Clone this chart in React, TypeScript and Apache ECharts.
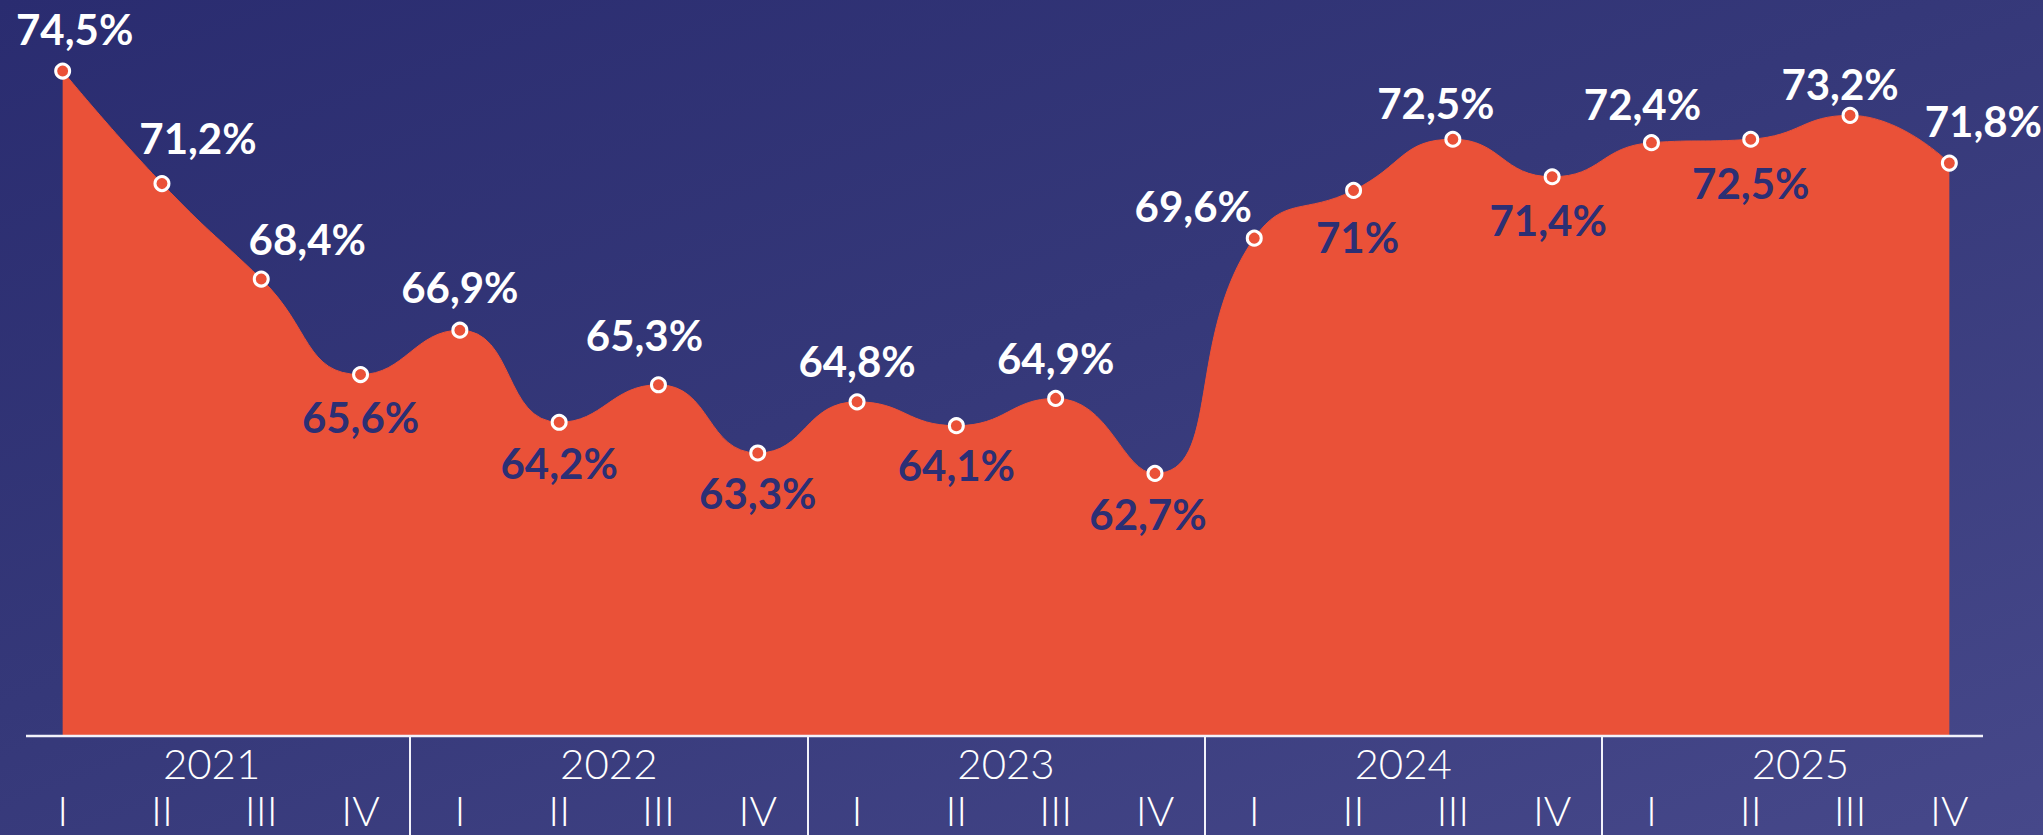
import React, { useEffect, useRef } from "react";
import * as echarts from "echarts";

const quarters = [
  "I", "II", "III", "IV",
  "I", "II", "III", "IV",
  "I", "II", "III", "IV",
  "I", "II", "III", "IV",
  "I", "II", "III", "IV",
];
const years = ["2021", "2022", "2023", "2024", "2025"];
const shareValues = [
  74.5, 71.2, 68.4, 65.6,
  66.9, 64.2, 65.3, 63.3,
  64.8, 64.1, 64.9, 62.7,
  69.6, 71.0, 72.5, 71.4,
  72.4, 72.5, 73.2, 71.8,
];
// label placement per point: "a" above (white), "b" below (navy)
const labelSide = [
  "a", "a", "a", "b",
  "a", "b", "a", "b",
  "a", "b", "a", "b",
  "a", "b", "a", "b",
  "a", "b", "a", "a",
];
const labelOffsets: [number, number][] = [
  [12, -42], [36, -46], [46, -40], [0, 42],
  [0, -43], [0, 41], [-14, -50], [0, 40],
  [0, -41], [0, 39], [0, -40], [-7, 41],
  [-61, -32], [4, 47], [-17, -36], [-4, 43],
  [-9, -39], [0, 44], [-10, -31], [34, -42],
];

const ORANGE = "#ea5138";
const NAVY = "#2c2f74";

export default function App() {
  const ref = useRef<HTMLDivElement>(null);
  useEffect(() => {
    if (!ref.current) return;
    const chart = echarts.init(ref.current, null, { renderer: "svg" });
    const fmt = (v: number) => String(v).replace(".", ",") + "%";
    chart.setOption({
      animation: false,
      backgroundColor: "transparent",
      grid: [
        { left: 13, right: 44, top: 54, bottom: 99 },
        { left: 13, right: 44, top: 736, bottom: 0 },
      ],
      xAxis: [
        {
          type: "category",
          gridIndex: 0,
          data: quarters,
          boundaryGap: true,
          axisLine: { show: false },
          axisTick: { show: false },
          splitLine: { show: false },
          axisLabel: {
            interval: 0,
            margin: 74,
            verticalAlign: "middle",
            color: "#ffffff",
            fontFamily: "Lato",
            fontWeight: 300,
            fontSize: 42,
          },
        },
        {
          type: "category",
          gridIndex: 1,
          data: years,
          boundaryGap: true,
          position: "top",
          axisLine: { show: false },
          axisTick: { show: false },
          splitLine: {
            show: true,
            showMinLine: false,
            showMaxLine: false,
            lineStyle: { color: "#f2f2fa", width: 2 },
          },
          axisLabel: {
            inside: true,
            interval: 0,
            margin: 27,
            verticalAlign: "middle",
            color: "#ffffff",
            fontFamily: "Lato",
            fontWeight: 300,
            fontSize: 42,
          },
        },
      ],
      yAxis: [
        { type: "value", gridIndex: 0, min: 55, max: 75, show: false },
        { type: "value", gridIndex: 1, min: 0, max: 1, show: false },
      ],
      graphic: [
        {
          type: "line",
          z: 100,
          shape: { x1: 26, y1: 736, x2: 1983, y2: 736 },
          style: { stroke: "#f2f2fa", lineWidth: 2.5 },
        },
      ],
      series: [
        {
          type: "line",
          xAxisIndex: 0,
          yAxisIndex: 0,
          smooth: 0.5,
          data: shareValues.map((v, i) => ({
            value: v,
            label: {
              color: labelSide[i] === "a" ? "#ffffff" : NAVY,
              offset: labelOffsets[i],
            },
          })),
          symbol: "circle",
          symbolSize: 14,
          itemStyle: { color: ORANGE, borderColor: "#ffffff", borderWidth: 3 },
          lineStyle: { color: ORANGE, width: 1 },
          areaStyle: { color: ORANGE, opacity: 1 },
          label: {
            show: true,
            position: "inside",
            align: "center",
            verticalAlign: "middle",
            fontFamily: "Lato",
            fontWeight: "bold",
            fontSize: 42,
            formatter: (p: any) => fmt(p.value),
          },
          z: 3,
        },
      ],
    });
    return () => chart.dispose();
  }, []);
  return (
    <div
      ref={ref}
      style={{
        position: "fixed",
        left: 0,
        top: 0,
        width: 2043,
        height: 835,
        background: "linear-gradient(160deg, #2a2c70 0%, #353879 45%, #46488a 100%)",
      }}
    />
  );
}
